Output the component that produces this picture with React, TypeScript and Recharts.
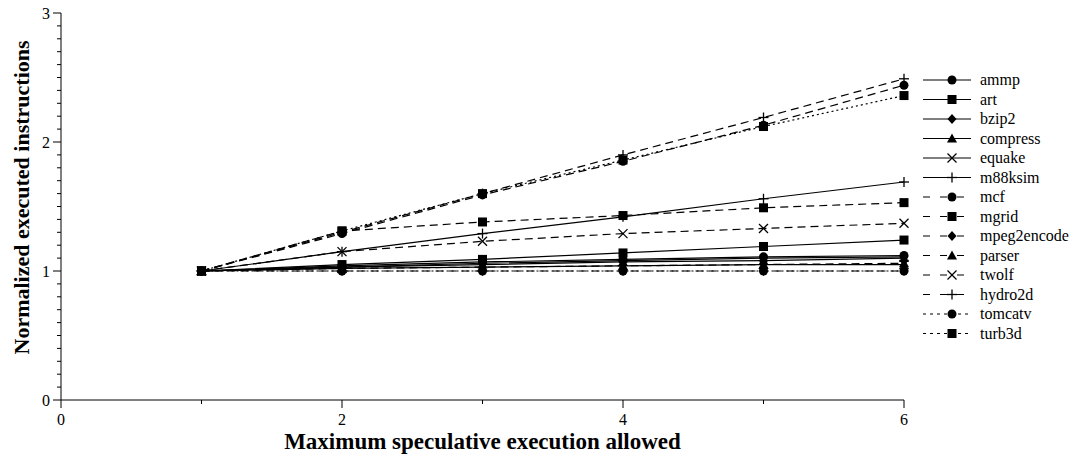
import { LineChart, Line, XAxis, YAxis } from "recharts";

const xs = [1, 2, 3, 4, 5, 6];

const ammp = [1, 1.04, 1.07, 1.09, 1.11, 1.12];
const art = [1, 1.05, 1.09, 1.14, 1.19, 1.24];
const bzip2 = [1, 1.03, 1.06, 1.08, 1.1, 1.11];
const compress = [1, 1.03, 1.05, 1.07, 1.08, 1.1];
const equake = [1, 1.02, 1.03, 1.04, 1.05, 1.05];
const m88ksim = [1, 1.15, 1.29, 1.42, 1.56, 1.69];
const mcf = [1, 1.29, 1.59, 1.85, 2.13, 2.44];
const mgrid = [1, 1.31, 1.38, 1.43, 1.49, 1.53];
const mpeg2encode = [1, 1.0, 1.0, 1.0, 1.0, 1.0];
const parser = [1, 1.02, 1.03, 1.04, 1.05, 1.06];
const twolf = [1, 1.15, 1.23, 1.29, 1.33, 1.37];
const hydro2d = [1, 1.3, 1.6, 1.9, 2.19, 2.49];
const tomcatv = [1, 1.0, 1.0, 1.0, 1.0, 1.0];
const turb3d = [1, 1.31, 1.6, 1.86, 2.12, 2.36];

const xTicks = [0, 1, 2, 3, 4, 5, 6];
const xLabels = [0, 2, 4, 6];
const yTicks = Array.from({ length: 31 }, (_, i) => i / 10);
const yLabels = [0, 1, 2, 3];

type Shape = "circle" | "square" | "diamond" | "triangle" | "cross" | "plus";

const SERIES: { key: string; values: number[]; shape: Shape; dash?: string }[] = [
  { key: "ammp", values: ammp, shape: "circle" },
  { key: "art", values: art, shape: "square" },
  { key: "bzip2", values: bzip2, shape: "diamond" },
  { key: "compress", values: compress, shape: "triangle" },
  { key: "equake", values: equake, shape: "cross" },
  { key: "m88ksim", values: m88ksim, shape: "plus" },
  { key: "mcf", values: mcf, shape: "circle", dash: "8 5" },
  { key: "mgrid", values: mgrid, shape: "square", dash: "8 5" },
  { key: "mpeg2encode", values: mpeg2encode, shape: "diamond", dash: "8 5" },
  { key: "parser", values: parser, shape: "triangle", dash: "8 5" },
  { key: "twolf", values: twolf, shape: "cross", dash: "8 5" },
  { key: "hydro2d", values: hydro2d, shape: "plus", dash: "8 5" },
  { key: "tomcatv", values: tomcatv, shape: "circle", dash: "2 3" },
  { key: "turb3d", values: turb3d, shape: "square", dash: "2 3" },
];

const rows = xs.map((x, i) => {
  const r: Record<string, number> = { x };
  SERIES.forEach((s) => (r[s.key] = s.values[i]));
  return r;
});

const FONT = "'Liberation Serif', 'DejaVu Serif', serif";

function Marker({ shape, cx, cy }: { shape: Shape; cx: number; cy: number }) {
  switch (shape) {
    case "circle":
      return <circle cx={cx} cy={cy} r={4.5} fill="#000" />;
    case "square":
      return <rect x={cx - 4.5} y={cy - 4.5} width={9} height={9} fill="#000" />;
    case "diamond":
      return (
        <polygon
          points={`${cx},${cy - 5} ${cx + 4.5},${cy} ${cx},${cy + 5} ${cx - 4.5},${cy}`}
          fill="#000"
        />
      );
    case "triangle":
      return (
        <polygon
          points={`${cx},${cy - 5} ${cx + 5},${cy + 4} ${cx - 5},${cy + 4}`}
          fill="#000"
        />
      );
    case "cross":
      return (
        <g stroke="#000" strokeWidth={1.3}>
          <line x1={cx - 4.5} y1={cy - 4.5} x2={cx + 4.5} y2={cy + 4.5} />
          <line x1={cx - 4.5} y1={cy + 4.5} x2={cx + 4.5} y2={cy - 4.5} />
        </g>
      );
    default:
      return (
        <g stroke="#000" strokeWidth={1.3}>
          <line x1={cx - 5} y1={cy} x2={cx + 5} y2={cy} />
          <line x1={cx} y1={cy - 5} x2={cx} y2={cy + 5} />
        </g>
      );
  }
}

const XTick = (props: any) => {
  const { x, y, payload } = props;
  const major = xLabels.includes(payload.value);
  return (
    <g>
      <line x1={x} y1={y} x2={x} y2={y + (major ? 8 : 4)} stroke="#000" />
      {major && (
        <text x={x} y={y + 25} textAnchor="middle" fontFamily={FONT} fontSize={16} fill="#000">
          {payload.value}
        </text>
      )}
    </g>
  );
};

const YTick = (props: any) => {
  const { x, y, payload } = props;
  const major = yLabels.includes(payload.value);
  return (
    <g>
      <line x1={x - (major ? 8 : 4)} y1={y} x2={x} y2={y} stroke="#000" />
      {major && (
        <text x={x - 11} y={y + 6} textAnchor="end" fontFamily={FONT} fontSize={16} fill="#000">
          {payload.value}
        </text>
      )}
    </g>
  );
};

function LegendBox() {
  return (
    <svg
      width={158}
      height={290}
      style={{ position: "absolute", left: 915, top: 62, overflow: "visible" }}
    >
      {SERIES.map((s, i) => {
        const y = 18 + i * 19.5;
        return (
          <g key={s.key}>
            <line
              x1={8}
              y1={y}
              x2={56}
              y2={y}
              stroke="#000"
              strokeWidth={1.2}
              strokeDasharray={s.dash ? (s.dash === "2 3" ? "3 4" : "7 10") : undefined}
            />
            <Marker shape={s.shape} cx={37} cy={y} />
            <text x={65} y={y + 5} fontFamily={FONT} fontSize={16} fill="#000">
              {s.key}
            </text>
          </g>
        );
      })}
    </svg>
  );
}

export default function App() {
  return (
    <div style={{ position: "relative", width: 1075, height: 460, background: "#fff" }}>
      <style>{`body{margin:0}`}</style>
      <LineChart
        width={1075}
        height={460}
        data={rows}
        margin={{ top: 13, right: 171, bottom: 30, left: 21 }}
      >
        <XAxis
          type="number"
          dataKey="x"
          domain={[0, 6]}
          ticks={xTicks}
          tick={<XTick />}
          tickLine={false}
          tickSize={0}
          tickMargin={0}
          interval={0}
          axisLine={{ stroke: "#000" }}
          height={30}
          label={{
            value: "Maximum speculative execution allowed",
            position: "insideBottom",
            offset: -19,
            style: { fontFamily: FONT, fontSize: 23, fontWeight: "bold", fill: "#000" },
          }}
        />
        <YAxis
          type="number"
          domain={[0, 3]}
          ticks={yTicks}
          tick={<YTick />}
          tickLine={false}
          tickSize={0}
          tickMargin={0}
          interval={0}
          axisLine={{ stroke: "#000" }}
          width={40}
          label={{
            value: "Normalized executed instructions",
            angle: -90,
            position: "insideLeft",
            dx: -5,
            dy: 148,
            style: { fontFamily: FONT, fontSize: 22, fontWeight: "bold", fill: "#000" },
          }}
        />
        {SERIES.map((s) => (
          <Line
            key={s.key}
            dataKey={s.key}
            stroke="#000"
            strokeWidth={1.2}
            strokeDasharray={s.dash}
            isAnimationActive={false}
            dot={(p: any) => <Marker key={`${s.key}-${p.index}`} shape={s.shape} cx={p.cx} cy={p.cy} />}
            activeDot={false}
          />
        ))}
      </LineChart>
      <LegendBox />
    </div>
  );
}
